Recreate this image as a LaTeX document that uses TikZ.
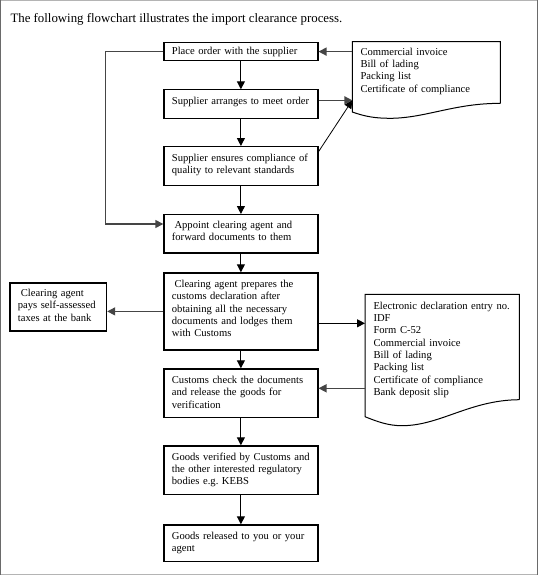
\documentclass[tikz,border=0pt]{standalone}
\usepackage{fontspec}
\setmainfont{Liberation Serif}
\usetikzlibrary{arrows.meta,calc}
\definecolor{lg}{HTML}{454545}
\definecolor{framedark}{HTML}{6A6A6A}
\definecolor{framelight}{HTML}{B4B4B4}
\begin{document}
\frenchspacing
\begin{tikzpicture}[x=1pt,y=-1pt,
  box/.style={draw=black,line width=1.2pt,minimum width=154pt,inner sep=0pt,anchor=north west},
  area/.style={inner sep=0pt,anchor=north west},
  txt/.style={anchor=base west,inner sep=0pt,align=left,text width=150pt,
              font={\fontsize{10.6pt}{12.3pt}\selectfont}},
  docline/.style={draw=black,line width=1pt},
  tip/.style={-{Triangle[length=8pt,width=8pt]}},
  barr/.style={tip,draw=black,line width=1.1pt},
  garr/.style={tip,draw=lg,line width=1.4pt}]
\useasboundingbox (0,0) rectangle (538,575);
% frame
\draw[framelight,line width=1pt] (0,0.5) -- (538,0.5);
\draw[framelight,line width=0.8pt] (0,574.4) -- (538,574.4);
\draw[framedark,line width=1.3pt] (0.7,0) -- (0.7,575);
\draw[framedark,line width=1.3pt] (537.3,0) -- (537.3,575);
% title
\node[anchor=base west,inner sep=0pt,font={\fontsize{12.85pt}{15pt}\selectfont}] (title) at (10.3,22.6)
  {The following flowchart illustrates the import clearance process.};
% main boxes
\node[box,minimum height=18.6pt] (b1) at (163.3,41.7) {};
\node[box,minimum height=29pt]   (b2) at (163.3,89.3) {};
\node[box,minimum height=39pt]   (b3) at (163.3,146) {};
\node[box,minimum height=38.3pt] (b4) at (163.3,214) {};
\node[box,minimum height=77pt]   (b5) at (163.3,272.3) {};
\node[box,minimum height=48.4pt] (b6) at (163.3,368.3) {};
\node[box,minimum height=48.4pt] (b7) at (163.3,445.3) {};
\node[box,minimum height=36.7pt] (b8) at (163.3,524.3) {};
\node[box,minimum width=96.7pt,minimum height=48pt] (L) at (9.3,282.3) {};
% texts
\node[txt] (t1) at (171.7,54.6) {Place order with the supplier};
\node[txt] (t2) at (171.7,104.3) {Supplier arranges to meet order};
\node[txt] (t3) at (171.7,161.3) {Supplier ensures compliance of\\quality to relevant standards};
\node[txt] (t4) at (171.7,228.6) {\hspace{2.6pt}Appoint clearing agent and\\forward documents to them};
\node[txt] (t5) at (171.7,287.6) {\hspace{2.6pt}Clearing agent prepares the\\customs declaration after\\obtaining all the necessary\\documents and lodges them\\with Customs};
\node[txt] (t6) at (171.7,383.6) {Customs check the documents\\and release the goods for\\verification};
\node[txt] (t7) at (171.7,460.3) {Goods verified by Customs and\\the other interested regulatory\\bodies e.g. KEBS};
\node[txt] (t8) at (171.7,539.3) {Goods released to you or your\\agent};
\node[txt,text width=88pt] (tL) at (17.7,296.6) {\hspace{3pt}Clearing agent\\pays self-assessed\\taxes at the bank};
% documents
\node[area,minimum width=147.7pt,minimum height=61.3pt] (d1) at (352.3,41.7) {};
\draw[docline] (d1.south east) -- (d1.north east) -- (d1.north west) -- (352.3,112)
  .. controls (365,116.5) and (375,118.3) .. (390,118.3)
  .. controls (425,118.3) and (455,103) .. (d1.south east);
\node[txt] (td1) at (360.3,55.3) {Commercial invoice\\Bill of lading\\Packing list\\Certificate of compliance};
\node[area,minimum width=154pt,minimum height=105pt] (d2) at (365,294.3) {};
\draw[docline] (d2.south east) -- (d2.north east) -- (d2.north west) -- (365,416.7)
  .. controls (377,421.5) and (388,425.7) .. (402,425.7)
  .. controls (440,425.7) and (470,400) .. (d2.south east);
\node[txt] (td2) at (373.3,309.3) {Electronic declaration entry no.\\IDF\\Form C-52\\Commercial invoice\\Bill of lading\\Packing list\\Certificate of compliance\\Bank deposit slip};
% connector points
\coordinate (d1in) at ($(d1.north west)+(0,58.6)$);
\coordinate (b3out) at ($(b3.north east)+(0,5.7)$);
\coordinate (b4in) at ($(b4.north west)+(0,10)$);
\coordinate (b5out) at ($(b5.north east)+(0,51)$);
\coordinate (b6in) at ($(b6.north east)+(0,20)$);
% vertical flow
\draw[barr] (b1.south) -- (b2.north);
\draw[barr] (b2.south) -- (b3.north);
\draw[barr] (b3.south) -- (b4.north);
\draw[barr] (b4.south) -- (b5.north);
\draw[barr] (b5.south) -- (b6.north);
\draw[barr] (b6.south) -- (b7.north);
\draw[barr] (b7.south) -- (b8.north);
% side connectors
\draw[garr] (b1.west) -- ++(-57.6,0) |- (b4in);
\draw[garr] (d1.west |- b1.east) -- (b1.east);
\draw[garr] (b2.east |- d1in) -- (d1in);
\draw[tip,draw=black,line width=0.8pt] (b3out) -- (d1in);
\draw[garr] (b5.west) -- (L.east |- b5.west);
\draw[barr] (b5out) -- (d2.west |- b5out);
\draw[garr] (d2.west |- b6in) -- (b6in);
\end{tikzpicture}
\end{document}
